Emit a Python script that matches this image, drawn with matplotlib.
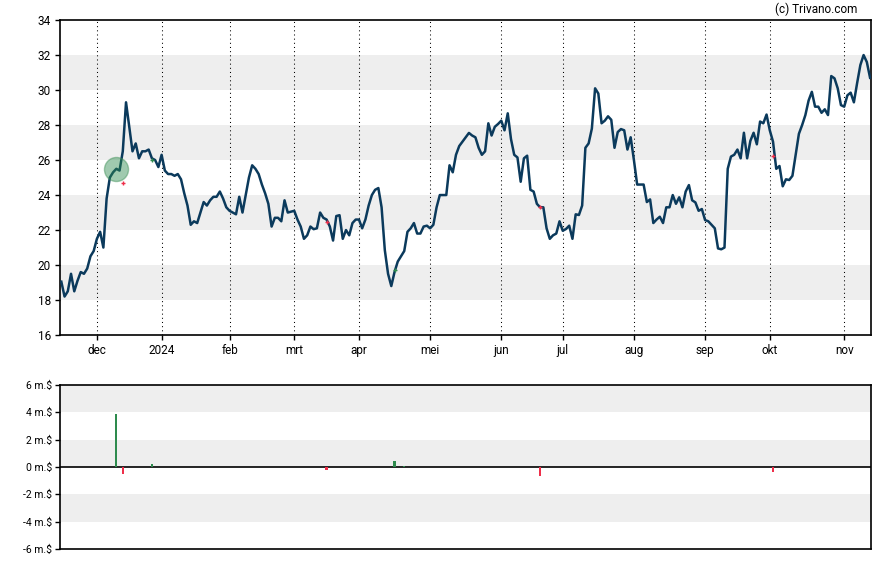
import matplotlib
matplotlib.use('Agg')
import matplotlib.pyplot as plt
import numpy as np
import pandas as pd

plt.rcParams['font.family'] = ['Roboto', 'DejaVu Sans']

# daily closing price, one value per trading day from 15 nov 2023
prices = [
    19.05, 18.2, 18.5, 19.5, 18.5, 19.1, 19.6, 19.5, 19.8, 20.5,
    20.8, 21.5, 21.9, 21.0, 23.8, 25.0, 25.3, 25.5, 25.4, 26.5,
    29.3, 27.9, 26.5, 26.95, 26.1, 26.5, 26.5, 26.6, 26.1, 26.0,
    25.6, 26.3, 25.4, 25.2, 25.2, 25.1, 25.2, 24.9, 24.1, 23.4,
    22.3, 22.5, 22.4, 23.0, 23.6, 23.4, 23.7, 23.9, 23.9, 24.2,
    23.8, 23.3, 23.1, 23.0, 22.9, 23.9, 23.0, 24.0, 25.0, 25.7,
    25.5, 25.2, 24.6, 24.1, 23.5, 22.2, 22.7, 22.7, 22.5, 23.7,
    23.0, 23.05, 23.1, 22.6, 22.2, 21.5, 21.7, 22.2, 22.05, 22.1,
    23.0, 22.7, 22.6, 22.2, 21.4, 22.8, 22.85, 21.5, 22.0, 21.7,
    22.4, 22.6, 22.6, 22.1, 22.6, 23.4, 24.0, 24.3, 24.4, 23.3,
    20.85, 19.5, 18.8, 19.6, 20.2, 20.5, 20.8, 21.9, 22.1, 22.4,
    21.8, 21.8, 22.2, 22.25, 22.1, 22.3, 23.3, 24.0, 24.0, 24.0,
    25.7, 25.3, 26.3, 26.8, 27.05, 27.3, 27.55, 27.4, 27.3, 26.7,
    26.3, 26.5, 28.1, 27.4, 27.9, 28.06, 28.25, 27.7, 28.67, 27.2,
    26.3, 26.15, 24.76, 26.1, 26.25, 24.3, 24.2, 23.5, 23.3, 23.3,
    22.1, 21.5, 21.7, 21.8, 22.5, 21.96, 22.06, 22.25, 21.5, 22.9,
    22.86, 23.4, 26.7, 26.95, 27.8, 30.1, 29.8, 28.1, 28.25, 28.5,
    28.3, 26.7, 27.6, 27.77, 27.7, 26.6, 27.3, 26.0, 24.6, 24.6,
    24.6, 23.6, 23.75, 22.4, 22.6, 22.76, 22.4, 23.3, 23.3, 24.0,
    23.5, 23.87, 23.3, 24.2, 24.57, 23.7, 23.58, 23.1, 23.2, 22.57,
    22.5, 22.3, 22.1, 20.95, 20.9, 21.0, 25.5, 26.2, 26.3, 26.6,
    26.1, 27.56, 26.1, 27.1, 27.56, 26.9, 28.2, 28.1, 28.6, 27.7,
    27.05, 25.5, 25.66, 24.5, 24.9, 24.86, 25.1, 26.3, 27.5, 28.0,
    28.57, 29.4, 29.9, 29.05, 29.05, 28.7, 28.9, 28.57, 30.8, 30.67,
    30.1, 29.14, 29.05, 29.7, 29.85, 29.3, 30.4, 31.43, 32.0, 31.6,
    30.7,
]

holidays = ['2023-11-23', '2023-12-25', '2024-01-01', '2024-01-15',
            '2024-02-19', '2024-03-29', '2024-05-27', '2024-06-19',
            '2024-07-04', '2024-09-02']
month_labels = ['dec', '2024', 'feb', 'mrt', 'apr', 'mei', 'jun',
                'jul', 'aug', 'sep', 'okt', 'nov']

# insider trades (m.$), positive = buy, negative = sell
trade_dates = ['2023-12-11', '2023-12-13', '2023-12-27', '2024-03-15',
               '2024-04-16', '2024-04-19', '2024-06-20', '2024-10-02']
trade_values = [3.9, -0.49, 0.2, -0.2, 0.46, 0.08, -0.63, -0.34]
trade_prices = [25.5, 24.67, 26.0, 22.47, 19.7, 20.6, 23.33, 26.23]

GREEN = '#2e8b4e'
RED = '#ee2f4a'

cbd = pd.offsets.CustomBusinessDay(holidays=holidays)
dates = pd.date_range('2023-11-15', periods=len(prices), freq=cbd)
x = np.arange(len(dates))

first_of_month = ~dates.to_period('M').duplicated()
month_pos = np.where(first_of_month)[0][1:]

trade_pos = dates.get_indexer(pd.to_datetime(trade_dates))
trade_cols = [GREEN if v > 0 else RED for v in trade_values]

fig = plt.figure(figsize=(8.88, 5.65), dpi=100)

# price panel
ax1 = fig.add_axes([0.0676, 0.407, 0.9133, 0.5575])
for lo in (18, 22, 26, 30):
    ax1.axhspan(lo, lo + 2, color='#eeeeee', lw=0, zorder=0)
for p in month_pos:
    ax1.axvline(p, color='black', ls=(0, (1, 3)), lw=0.75, zorder=1)
ax1.plot(x, prices, color='#0b3a5c', lw=1.8, zorder=3)

for pos, val, pr, c in zip(trade_pos, trade_values, trade_prices, trade_cols):
    if abs(val) > 1:
        ax1.scatter(pos, pr, s=300, color=GREEN, alpha=0.45,
                    edgecolors='#3d8f55', linewidths=1, zorder=4)
    elif abs(val) >= 0.1:
        ax1.plot(pos, pr, marker='+', color=c, ms=3.5, mew=1, zorder=4)

ax1.set_xlim(-0.4, 250.3)
ax1.set_ylim(16, 34)
ax1.set_yticks(range(16, 35, 2))
ax1.set_xticks(month_pos)
ax1.set_xticklabels(month_labels)
ax1.tick_params(labelsize=8.5, length=3.5, width=1, pad=3)
for s in ax1.spines.values():
    s.set_linewidth(1.2)

# trades panel
ax2 = fig.add_axes([0.0676, 0.0283, 0.9133, 0.2903])
for lo in (4, 0, -4):
    ax2.axhspan(lo, lo + 2, color='#eeeeee', lw=0, zorder=0)
ax2.axhline(0, color='black', lw=1.2, zorder=2)
ax2.bar(trade_pos, trade_values, width=0.7, color=trade_cols, zorder=3)
ax2.set_xlim(-0.4, 250.3)
ax2.set_ylim(-6, 6)
ax2.set_yticks(range(-6, 7, 2))
ax2.set_yticklabels(['%d m.$' % v for v in range(-6, 7, 2)])
ax2.set_xticks([])
ax2.tick_params(labelsize=7.5, length=3.5, width=1, pad=2)
for s in ax2.spines.values():
    s.set_linewidth(1.2)

fig.text(857 / 888, 1 - 9 / 565, '(c) Trivano.com', ha='right', va='center',
         fontsize=8.5)

fig.savefig('out.png', dpi=100)
